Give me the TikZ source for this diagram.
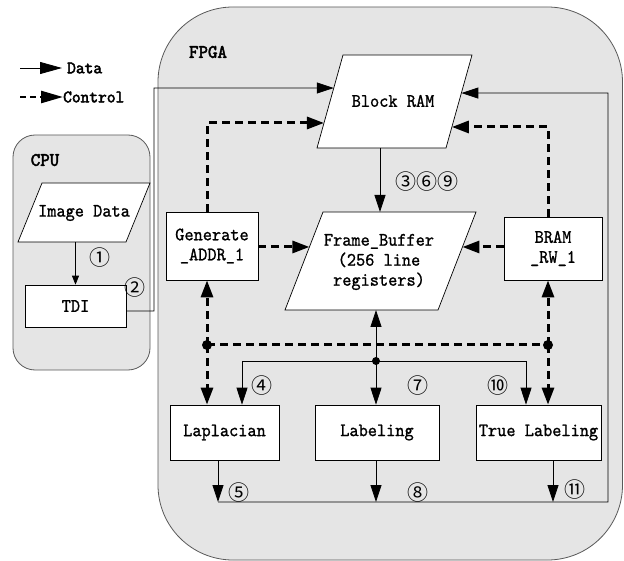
\documentclass[tikz,border=0pt]{standalone}
\usepackage{fontspec}
\newfontfamily\mono{lmmono10-regular.otf}[FakeStretch=0.92, FakeBold=1]
\newfontfamily\monob{lmmono10-regular.otf}[FakeStretch=0.95, FakeBold=2.5]
\newfontfamily\circf{Noto Sans CJK SC}
\usetikzlibrary{arrows.meta,calc}
\begin{document}
\begin{tikzpicture}[x=1pt,y=-1pt,
  container/.style={draw=black!65, fill=black!10, line width=0.8pt},
  procbox/.style={draw, fill=white, line width=0.7pt, font=\mono\fontsize{19}{20}\selectfont, align=center, inner sep=0pt},
  para/.style={draw, fill=white, line width=0.7pt},
  txt/.style={font=\mono\fontsize{19}{20}\selectfont, align=center, inner sep=0pt},
  num/.style={font=\circf\fontsize{21}{21}\selectfont, inner sep=0pt},
  ttl/.style={font=\monob\fontsize{19}{20}\selectfont, inner sep=0pt},
  plainline/.style={line width=0.8pt},
  dataarrow/.style={line width=0.8pt, -{Triangle[length=17pt,width=11pt]}},
  smallarrow/.style={line width=0.8pt, -{Triangle[length=9pt,width=7pt]}},
  ctrlline/.style={line width=3pt, dash pattern=on 8pt off 5pt},
  ctrlarrow/.style={ctrlline, -{Triangle[length=17pt,width=12pt]}},
  busdot/.style={circle, fill, inner sep=0pt, minimum size=#1},
]
\useasboundingbox (0,0) rectangle (624,561);

% containers
\draw[container, rounded corners=75pt] (158,7) rectangle (622.5,560);
\draw[container, rounded corners=22pt] (13,135) rectangle (150,370);
\node[ttl] (fpgat) at (208,52) {FPGA};
\node[ttl] (cput) at (45,160) {CPU};

% legend
\coordinate (lg1a) at (20,68); \coordinate (lg1b) at (62,68);
\coordinate (lg2a) at (20,97); \coordinate (lg2b) at (63,97);
\draw[line width=0.8pt, -{Triangle[length=22pt,width=12pt]}] (lg1a) -- (lg1b);
\draw[ctrlline, line width=2.5pt, dash pattern=on 6pt off 4pt, -{Triangle[length=22pt,width=12pt]}] (lg2a) -- (lg2b);
\node[ttl, font=\monob\fontsize{17.5}{18}\selectfont, anchor=west] (lgd) at (67,68) {Data};
\node[ttl, font=\monob\fontsize{17.5}{18}\selectfont, anchor=west] (lgc) at (63,97) {Control};

% parallelograms
\coordinate (imgTL) at (42,183); \coordinate (imgTR) at (150,183);
\coordinate (imgBR) at (126,242); \coordinate (imgBL) at (18,242);
\draw[para] (imgTL) -- (imgTR) -- (imgBR) -- (imgBL) -- cycle;
\node[txt] (img) at (84,213) {Image Data};

\coordinate (ramTL) at (343,55); \coordinate (ramTR) at (472,55);
\coordinate (ramBR) at (446,148); \coordinate (ramBL) at (317,148);
\draw[para] (ramTL) -- (ramTR) -- (ramBR) -- (ramBL) -- cycle;
\node[txt] (ram) at (393,101) {Block RAM};

\coordinate (fbTL) at (323,212); \coordinate (fbTR) at (476,212);
\coordinate (fbBR) at (438,310); \coordinate (fbBL) at (285,310);
\draw[para] (fbTL) -- (fbTR) -- (fbBR) -- (fbBL) -- cycle;
\node[txt] (fb) at (379,262) {Frame\_Buffer\\(256 line\\registers)};

% boxes
\node[procbox, minimum width=101pt, minimum height=42pt] (tdi) at (75.5,306) {TDI};
\node[procbox, minimum width=92pt, minimum height=68pt] (gen) at (212,246) {Generate\\\_ADDR\_1};
\node[procbox, minimum width=98pt, minimum height=63pt] (rw) at (553,248.5) {BRAM\\\_RW\_1};
\node[procbox, minimum width=109pt, minimum height=55pt] (lap) at (224.5,432.5) {Laplacian};
\node[procbox, minimum width=124pt, minimum height=55pt] (lab) at (377,432.5) {Labeling};
\node[procbox, minimum width=125pt, minimum height=55pt] (tlab) at (538.5,432.5) {True Labeling};

% edge points
\coordinate (rin1) at ($(ramTL)!0.355!(ramBL)$);
\coordinate (rin2) at ($(ramTL)!0.731!(ramBL)$);
\coordinate (rin3) at ($(ramTR)!0.409!(ramBR)$);
\coordinate (rin4) at ($(ramTR)!0.774!(ramBR)$);
\coordinate (fbL) at ($(fbTL)!0.357!(fbBL)$);
\coordinate (fbR) at ($(fbTR)!0.357!(fbBR)$);
\coordinate (ramB) at (380,148);
\coordinate (fbT) at (380,212);
\coordinate (fbB) at (376,310);
\coordinate (imgB) at (75.5,242);
\coordinate (tdiBend) at (154,88);

% CPU flow
\draw[smallarrow] (imgB) -- (tdi.north);
\draw[dataarrow] ([yshift=-5pt]tdi.east) -| (tdiBend) -- (rin1);

% RAM -> FB
\draw[dataarrow] (ramB) -- (fbT);

% control
\draw[ctrlarrow] ([xshift=-5pt]gen.north) |- (rin2);
\draw[ctrlarrow] ([xshift=-5pt]rw.north) |- (rin4);
\draw[ctrlarrow] (gen.east |- fbL) -- (fbL);
\draw[ctrlarrow] (rw.west |- fbR) -- (fbR);

% control bus
\coordinate (cL) at (207,345); \coordinate (cR) at (548,345);
\draw[ctrlline] (cL) -- (cR);
\draw[ctrlarrow] (cL) -- (cL |- gen.south);
\draw[ctrlarrow] (cL) -- (cL |- lap.north);
\draw[ctrlarrow] (cR) -- (cR |- rw.south);
\draw[ctrlarrow] (cR) -- (cR |- tlab.north);
\node[busdot=10pt] (dotL) at (cL) {};
\node[busdot=10pt] (dotR) at (cR) {};

% data bus
\coordinate (dC) at (376,361);
\coordinate (dL) at (242,361); \coordinate (dR) at (526,361);
\draw[plainline] (dL) -- (dR);
\draw[dataarrow] (dC) -- (fbB);
\draw[dataarrow] (dC) -- (dC |- lab.north);
\draw[dataarrow] (dL) -- (dL |- lap.north);
\draw[dataarrow] (dR) -- (dR |- tlab.north);
\node[busdot=8pt] (dotC) at (dC) {};

% outputs
\coordinate (oL) at (218,502); \coordinate (oM) at (376,502); \coordinate (oR) at (553,502);
\coordinate (retC) at (608,93);
\draw[dataarrow] (oL |- lap.south) -- (oL);
\draw[dataarrow] (oM |- lab.south) -- (oM);
\draw[dataarrow] (oR |- tlab.south) -- (oR);
\draw[dataarrow] (oL) -| (retC) -- (rin3);

% numbers
\node[num] (n1) at (100,258) {①};
\node[num] (n2) at (135,288) {②};
\node[num] (n369) at (427,182) {③⑥⑨};
\node[num] (n4) at (262,386) {④};
\node[num] (n7) at (418,386) {⑦};
\node[num] (n10) at (498,386) {⑩};
\node[num] (n5) at (239,493) {⑤};
\node[num] (n8) at (418,493) {⑧};
\node[num] (n11) at (575,490) {⑪};
\end{tikzpicture}
\end{document}
